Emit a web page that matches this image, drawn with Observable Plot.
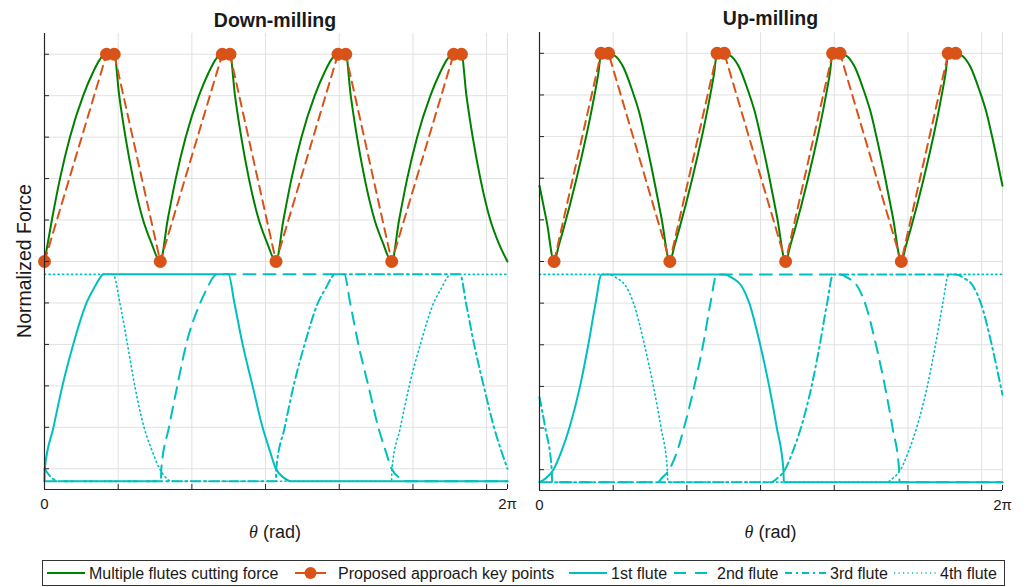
<!DOCTYPE html>
<html>
<head>
<meta charset="utf-8">
<script src="https://cdn.jsdelivr.net/npm/d3@7"></script>
<script src="https://cdn.jsdelivr.net/npm/@observablehq/plot@0.6"></script>
<style>
  html, body { margin: 0; padding: 0; background: #fff; }
  #root { position: relative; width: 1027px; height: 587px; overflow: hidden; background: #fff;
          font-family: "Liberation Sans", Arial, Helvetica, sans-serif; }
  #root > svg, #root > div { position: absolute; }
</style>
</head>
<body>
<div id="root"></div>
<script>
// ---------------- data ----------------
const TAU = 2 * Math.PI;
const thetaTicks = [0, 1, 2, 3, 4, 5, 6, TAU];
const thetaTickLabels = ["0", "", "", "", "", "", "", "2π"];
const forceTicks = [0, 0.1, 0.2, 0.3, 0.4, 0.5, 0.6, 0.7, 0.8, 0.9, 1.0];
const panelTitles = ["Down-milling", "Up-milling"];
const xLabel = "(rad)";
const yLabel = "Normalized Force";
const legendLabels = ["Multiple flutes cutting force", "Proposed approach key points",
  "1st flute", "2nd flute", "3rd flute", "4th flute"];

// Down-milling: total cutting force (normalized)
const downTotal = [
  [0,0.5],[0.1,0.6],[0.21,0.7],[0.345,0.8],[0.525,0.9],[0.66,0.957],[0.75,0.987],[0.82,1],[0.946,1],
  [1.014,0.9],[1.099,0.8],[1.203,0.7],[1.338,0.6],[1.45,0.545],
  [1.571,0.5],[1.671,0.6],[1.781,0.7],[1.916,0.8],[2.096,0.9],[2.231,0.957],[2.321,0.987],[2.391,1],[2.517,1],
  [2.585,0.9],[2.67,0.8],[2.774,0.7],[2.909,0.6],[3.021,0.545],
  [3.142,0.5],[3.242,0.6],[3.352,0.7],[3.487,0.8],[3.667,0.9],[3.802,0.957],[3.892,0.987],[3.962,1],[4.088,1],
  [4.156,0.9],[4.241,0.8],[4.345,0.7],[4.48,0.6],[4.592,0.545],
  [4.712,0.5],[4.812,0.6],[4.922,0.7],[5.057,0.8],[5.237,0.9],[5.372,0.957],[5.462,0.987],[5.532,1],[5.658,1],
  [5.726,0.9],[5.811,0.8],[5.915,0.7],[6.05,0.6],[6.162,0.545],[6.283,0.5]
];
const downKeys = [
  [0,0.5],[0.842,1],[0.946,1],[1.571,0.5],[2.413,1],[2.517,1],
  [3.142,0.5],[3.983,1],[4.088,1],[4.712,0.5],[5.552,1],[5.658,1]
];
const downFlute1 = [
  [0,-0.03],[0.004,0],[0.122,0.1],[0.243,0.2],[0.39,0.3],[0.57,0.4],[0.685,0.44],[0.74,0.457],[0.8,0.469],
  [2.496,0.469],[2.577,0.4],[2.689,0.3],[2.824,0.2],[2.959,0.1],[3.05,0.048],[3.14,0],[3.25,-0.022],[3.342,-0.03],[6.283,-0.03]
];
const downFlute2 = [
  [0,-0.03],[1.58,-0.03],[1.585,0],[1.689,0.1],[1.802,0.2],[1.923,0.3],[2.113,0.4],[2.22,0.44],[2.27,0.457],[2.33,0.469],
  [4.067,0.469],[4.148,0.4],[4.26,0.3],[4.395,0.2],[4.53,0.1],[4.62,0.048],[4.711,0],[4.82,-0.022],[4.913,-0.03],[6.283,-0.03]
];
const downFlute3 = [
  [0,0],[0.1,-0.022],[0.19,-0.03],[3.14,-0.03],[3.145,0],[3.26,0.1],[3.38,0.2],[3.53,0.3],[3.71,0.4],[3.83,0.44],[3.88,0.457],[3.94,0.469],
  [5.64,0.469],[5.72,0.4],[5.83,0.3],[5.96,0.2],[6.1,0.1],[6.19,0.048],[6.283,0]
];
const downFlute4 = [
  [0,0.469],[0.932,0.469],[1.023,0.4],[1.126,0.3],[1.225,0.2],[1.351,0.1],[1.45,0.048],[1.563,0],[1.65,-0.022],[1.72,-0.03],
  [4.71,-0.03],[4.715,0],[4.83,0.1],[4.95,0.2],[5.1,0.3],[5.28,0.4],[5.4,0.44],[5.45,0.457],[5.51,0.469],[6.283,0.469]
];

// Up-milling
const upTotal = [
  [0,0.682],[0.1,0.594],
  [0.198,0.5],[0.26,0.537],[0.33,0.581],[0.41,0.634],[0.495,0.694],[0.575,0.754],[0.645,0.81],[0.71,0.866],[0.755,0.908],[0.797,0.95],[0.838,1],
  [0.94,1],[1.04,0.992],[1.14,0.966],[1.26,0.91],[1.35,0.86],[1.43,0.8],[1.55,0.7],[1.655,0.605],
  [1.769,0.5],[1.831,0.537],[1.901,0.581],[1.981,0.634],[2.066,0.694],[2.146,0.754],[2.216,0.81],[2.281,0.866],[2.326,0.908],[2.368,0.95],[2.409,1],
  [2.511,1],[2.611,0.992],[2.711,0.966],[2.831,0.91],[2.921,0.86],[3.001,0.8],[3.121,0.7],[3.226,0.605],
  [3.34,0.5],[3.402,0.537],[3.472,0.581],[3.552,0.634],[3.637,0.694],[3.717,0.754],[3.787,0.81],[3.852,0.866],[3.897,0.908],[3.939,0.95],[3.98,1],
  [4.082,1],[4.182,0.992],[4.282,0.966],[4.402,0.91],[4.492,0.86],[4.572,0.8],[4.692,0.7],[4.797,0.605],
  [4.91,0.5],[4.972,0.537],[5.042,0.581],[5.122,0.634],[5.207,0.694],[5.287,0.754],[5.357,0.81],[5.422,0.866],[5.467,0.908],[5.509,0.95],[5.55,1],
  [5.652,1],[5.752,0.992],[5.852,0.966],[5.972,0.91],[6.062,0.86],[6.142,0.8],[6.262,0.7],[6.283,0.682]
];
const upKeys = [
  [0.198,0.5],[0.835,1],[0.937,1],[1.769,0.5],[2.41,1],[2.508,1],
  [3.34,0.5],[3.978,1],[4.078,1],[4.91,0.5],[5.547,1],[5.648,1]
];
const upFlute1 = [
  [0,-0.03],[0.09,-0.02],[0.189,0],[0.3,0.045],[0.405,0.1],[0.55,0.2],[0.662,0.3],[0.761,0.4],[0.842,0.469],
  [2.509,0.469],[2.62,0.46],[2.734,0.443],[2.847,0.4],[2.995,0.3],[3.117,0.2],[3.221,0.1],[3.31,0],[3.316,-0.03],[6.283,-0.03]
];
const upFlute2 = [
  [0,-0.03],[1.6,-0.03],[1.66,-0.02],[1.76,0],[1.87,0.045],[1.96,0.1],[2.1,0.2],[2.22,0.3],[2.32,0.4],[2.405,0.469],
  [4.08,0.469],[4.19,0.46],[4.305,0.443],[4.418,0.4],[4.566,0.3],[4.688,0.2],[4.792,0.1],[4.88,0],[4.886,-0.03],[6.283,-0.03]
];
const upFlute3 = [
  [0,0.174],[0.079,0.1],[0.166,0],[0.172,-0.03],[3.142,-0.03],[3.23,-0.02],[3.331,0],[3.44,0.045],[3.547,0.1],[3.692,0.2],[3.804,0.3],[3.903,0.4],[3.984,0.469],
  [5.651,0.469],[5.762,0.46],[5.876,0.443],[5.989,0.4],[6.137,0.3],[6.259,0.2],[6.283,0.18]
];
const upFlute4 = [
  [0,0.469],[0.938,0.469],[1.05,0.46],[1.163,0.443],[1.276,0.4],[1.424,0.3],[1.546,0.2],[1.65,0.1],[1.735,0],[1.741,-0.03],
  [4.712,-0.03],[4.8,-0.02],[4.9,0],[5.01,0.045],[5.117,0.1],[5.262,0.2],[5.374,0.3],[5.473,0.4],[5.554,0.469],[6.283,0.469]
];

// ---------------- styles ----------------
const GREEN = "#008000", ORANGE = "#D95319", CYAN = "#00BFBF", AXIS = "#262626", GRID = "#e1e1e1";
const FONT = "'Liberation Sans', Arial, Helvetica, sans-serif";
const fluteStyles = [
  {strokeWidth: 2},
  {strokeWidth: 2, strokeDasharray: "12,8"},
  {strokeWidth: 2, strokeDasharray: "9,4,2,4"},
  {strokeWidth: 1.6, strokeDasharray: "1.2,3.3"}
];

function panel({total, keys, flutes, left, top, bottom}) {
  const W = 515, H = 520, mL = 44, mR = 8;
  const plotW = W - mL - mR, plotH = H - top - bottom;
  const X = d => d[0], Y = d => d[1];
  const svg = Plot.plot({
    width: W, height: H,
    marginLeft: mL, marginRight: mR, marginTop: top, marginBottom: bottom,
    style: "background: transparent; overflow: visible; font-family: " + FONT + "; font-size: 15px;",
    x: {domain: [0, TAU], axis: null},
    y: {domain: [-0.05, 1.05], axis: null},
    marks: [
      Plot.gridX(thetaTicks, {stroke: GRID, strokeOpacity: 1, strokeWidth: 1}),
      Plot.gridY(forceTicks, {stroke: GRID, strokeOpacity: 1, strokeWidth: 1}),
      ...flutes.map((f, i) => Plot.line(f, {x: X, y: Y, stroke: CYAN, curve: "monotone-x", ...fluteStyles[i]})),
      Plot.line(total, {x: X, y: Y, stroke: GREEN, strokeWidth: 2, curve: "monotone-x"}),
      Plot.line(keys, {x: X, y: Y, stroke: ORANGE, strokeWidth: 2, strokeDasharray: "9,6"}),
      Plot.dot(keys, {x: X, y: Y, r: 6.5, fill: ORANGE, stroke: "none"}),
      Plot.ruleX([0], {stroke: AXIS, strokeWidth: 1.2}),
      Plot.ruleY([-0.05], {stroke: AXIS, strokeWidth: 1.2}),
      Plot.tickX(thetaTicks, {x: d => d, stroke: AXIS, insetTop: plotH - 5}),
      Plot.tickY(forceTicks, {y: d => d, stroke: AXIS, insetRight: plotW - 5}),
      // x tick labels (only 0 and 2π are labelled)
      Plot.text(thetaTicks, {
        x: d => d, text: d => thetaTickLabels[thetaTicks.indexOf(d)],
        frameAnchor: "bottom", dy: 19, fontSize: 15, fill: "#1a1a1a", fontFamily: FONT
      })
    ]
  });
  svg.setAttribute("font-size", "15");
  svg.style.left = left + "px";
  svg.style.top = "0px";
  return svg;
}

const root = document.getElementById("root");
root.appendChild(panel({total: downTotal, keys: downKeys,
  flutes: [downFlute1, downFlute2, downFlute3, downFlute4], left: 0, top: 33, bottom: 31}));
root.appendChild(panel({total: upTotal, keys: upKeys,
  flutes: [upFlute1, upFlute2, upFlute3, upFlute4], left: 495, top: 32, bottom: 30}));

// ---------------- texts & legend overlay ----------------
const ov = d3.create("svg").attr("width", 1027).attr("height", 587)
  .style("left", "0px").style("top", "0px").style("pointer-events", "none")
  .attr("font-family", FONT).attr("fill", "#1a1a1a");

ov.append("text").attr("x", 275).attr("y", 26.5).attr("text-anchor", "middle")
  .attr("font-size", 19.5).attr("font-weight", "bold").text(panelTitles[0]);
ov.append("text").attr("x", 770.5).attr("y", 25).attr("text-anchor", "middle")
  .attr("font-size", 19.5).attr("font-weight", "bold").text(panelTitles[1]);

ov.append("text").attr("transform", "translate(30.5,261) rotate(-90)").attr("text-anchor", "middle")
  .attr("font-size", 19.5).text(yLabel);

for (const cx of [275, 770.5]) {
  const t = ov.append("text").attr("x", cx).attr("y", 538).attr("text-anchor", "middle").attr("font-size", 18);
  t.append("tspan").attr("font-family", "'Liberation Serif', 'DejaVu Serif', serif").attr("font-style", "italic").text("θ");
  t.append("tspan").text(" " + xLabel);
}

// legend box
ov.append("rect").attr("x", 42.5).attr("y", 560.5).attr("width", 962).attr("height", 25)
  .attr("fill", "white").attr("stroke", "#333").attr("stroke-width", 1);
const ly = 573;
const items = [
  {x1: 47, x2: 85, tx: 89, stroke: GREEN, w: 2},
  {x1: 295, x2: 326, tx: 338, stroke: ORANGE, w: 2, dot: true},
  {x1: 569, x2: 607, tx: 611, stroke: CYAN, w: 2},
  {x1: 674, x2: 708, tx: 717, stroke: CYAN, w: 2, dash: "12,9"},
  {x1: 785, x2: 827, tx: 830, stroke: CYAN, w: 2, dash: "7,4,2,4"},
  {x1: 894, x2: 937, tx: 940, stroke: CYAN, w: 1.6, dash: "1.2,3.3"}
];
items.forEach((it, i) => {
  ov.append("line").attr("x1", it.x1).attr("x2", it.x2).attr("y1", ly).attr("y2", ly)
    .attr("stroke", it.stroke).attr("stroke-width", it.w).attr("stroke-dasharray", it.dash || null);
  if (it.dot) ov.append("circle").attr("cx", (it.x1 + it.x2) / 2).attr("cy", ly).attr("r", 6).attr("fill", ORANGE);
  ov.append("text").attr("x", it.tx).attr("y", 579).attr("font-size", 16).text(legendLabels[i]);
});
root.appendChild(ov.node());
</script>
</body>
</html>
